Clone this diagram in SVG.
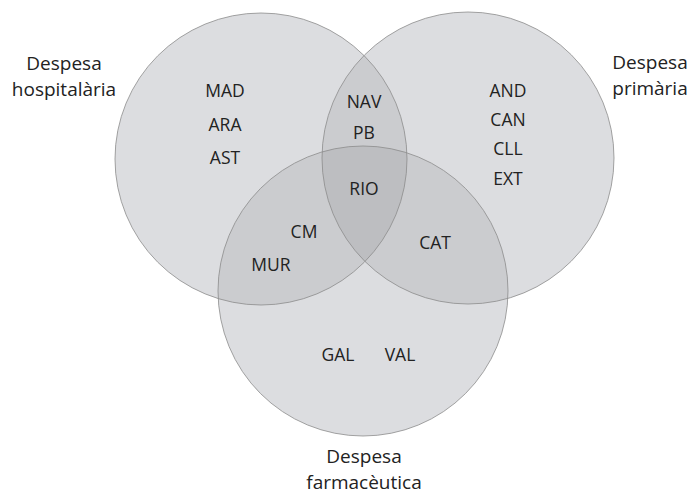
<svg xmlns="http://www.w3.org/2000/svg" width="690" height="495" viewBox="0 0 690 495">
  <style>
    .set { fill: #dcdde0; }
    .two { fill: #cbcccf; }
    .three { fill: #bdbec1; }
    .rim { fill: none; stroke: #8c8c8c; stroke-width: 0.8; }
    text { font-family: "Open Sans", "Noto Sans", sans-serif; fill: #222; text-anchor: middle; }
    .code { font-size: 17.5px; }
    .title { font-size: 19px; }
  </style>
  <defs>
    <clipPath id="clipHosp"><circle cx="261" cy="159" r="146"/></clipPath>
    <clipPath id="clipPrim"><circle cx="468" cy="158" r="146"/></clipPath>
  </defs>

  <rect width="690" height="495" fill="#ffffff"/>

  <!-- base discs -->
  <g id="fills">
    <circle class="set" cx="261" cy="159" r="146"/>
    <circle class="set" cx="468" cy="158" r="146"/>
    <circle class="set" cx="363" cy="291" r="145"/>
    <!-- pairwise overlaps -->
    <g clip-path="url(#clipHosp)">
      <circle class="two" cx="468" cy="158" r="146"/>
      <circle class="two" cx="363" cy="291" r="145"/>
    </g>
    <g clip-path="url(#clipPrim)">
      <circle class="two" cx="363" cy="291" r="145"/>
    </g>
    <!-- triple overlap -->
    <g clip-path="url(#clipHosp)">
      <g clip-path="url(#clipPrim)">
        <circle class="three" cx="363" cy="291" r="145"/>
      </g>
    </g>
  </g>

  <!-- outlines and labels -->
  <g id="hospitalaria">
    <circle class="rim" cx="261" cy="159" r="146"/>
    <text class="title" x="64" y="70">Despesa</text>
    <text class="title" x="64" y="96">hospitalària</text>
    <text class="code" x="225" y="97">MAD</text>
    <text class="code" x="225" y="131">ARA</text>
    <text class="code" x="225" y="164">AST</text>
  </g>

  <g id="primaria">
    <circle class="rim" cx="468" cy="158" r="146"/>
    <text class="title" x="650" y="69">Despesa</text>
    <text class="title" x="650" y="95">primària</text>
    <text class="code" x="508" y="97">AND</text>
    <text class="code" x="508" y="126">CAN</text>
    <text class="code" x="508" y="155">CLL</text>
    <text class="code" x="508" y="185">EXT</text>
  </g>

  <g id="farmaceutica">
    <circle class="rim" cx="363" cy="291" r="145"/>
    <text class="title" x="364" y="463">Despesa</text>
    <text class="title" x="364" y="489">farmacèutica</text>
    <text class="code" x="338" y="361">GAL</text>
    <text class="code" x="400" y="361">VAL</text>
  </g>

  <g id="overlaps">
    <text class="code" x="364" y="108">NAV</text>
    <text class="code" x="364" y="139">PB</text>
    <text class="code" x="364" y="195">RIO</text>
    <text class="code" x="435" y="249">CAT</text>
    <text class="code" x="304" y="238">CM</text>
    <text class="code" x="271" y="271">MUR</text>
  </g>
</svg>
